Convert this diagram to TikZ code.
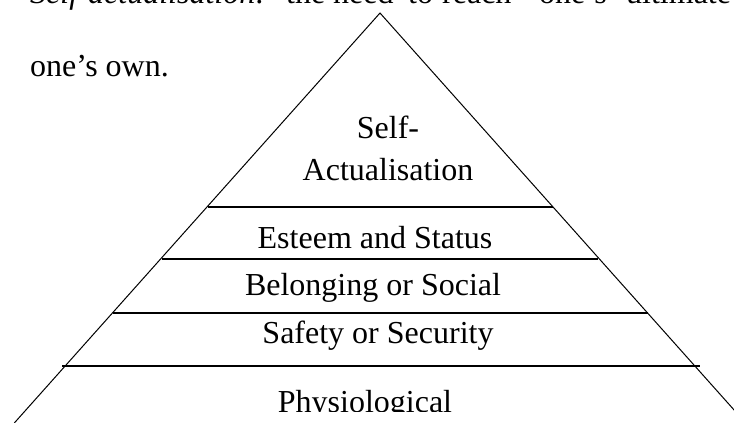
\documentclass[tikz,border=0pt]{standalone}
\usepackage{fontspec}
\setmainfont{Liberation Serif}

\begin{document}
\begin{tikzpicture}[x=1pt,y=-1pt,
  side/.style={line width=1pt},
  level/.style={line width=1.3pt},
  tier/.style={anchor=base,inner sep=0pt,font=\fontsize{32}{40}\selectfont},
  para/.style={anchor=base west,inner sep=0pt,font=\fontsize{32}{40}\selectfont}]
\useasboundingbox (0,0) rectangle (734,423);
\clip (0,0) rectangle (734,423);

% running text around the figure
\node[para] (selfa) at (30,4) {\itshape Self};
\node[para] (selfb) at (88,4) {\itshape actualisation:};
\foreach \w/\x in {the/286, need/333, to/408, reach/442, one's/539, ultimate/626}
  \node[para] (w\x) at (\x,4) {\w};
\node[para] (own) at (30,76) {one's own.};

% the pyramid
\coordinate (apex) at (380,13);
\coordinate (bl) at (14.3,423);
\coordinate (br) at (745.7,423);
\draw [side] (bl) -- (apex) -- (br);

\draw [level] (207.5,207) -- (552.5,207);
\draw [level] (161.5,259) -- (598,259);
\draw [level] (112.5,313) -- (647.5,313);
\draw [level,line width=1.6pt] (62,366) -- (700,366);

\node[tier] (self) at (388,138) {Self-};
\node[tier] (actual) at (388,180) {Actualisation};
\node[tier] (esteem) at (375,248) {Esteem and Status};
\node[tier] (belong) at (373,295) {Belonging or Social};
\node[tier] (safety) at (378,343) {Safety or Security};
\begin{scope}
  \clip (0,0) rectangle (734,411);
  \node[tier] (physio) at (365,412) {Physiological};
\end{scope}
\end{tikzpicture}
\end{document}
